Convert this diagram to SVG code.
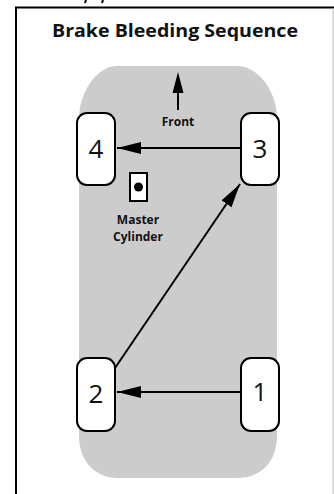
<svg xmlns="http://www.w3.org/2000/svg" width="334" height="494" viewBox="0 0 334 494">
<defs>
<style>
.wheel{fill:#ffffff;stroke:#000000;stroke-width:2}
.num{font-family:"Open Sans","Liberation Sans",sans-serif;font-size:26px;fill:#111;text-anchor:middle}
.lbl{font-family:"Open Sans","Liberation Sans",sans-serif;font-weight:bold;font-size:12px;fill:#111;text-anchor:middle}
.conn{stroke:#000;stroke-width:2;fill:none}
</style>
<marker id="ah" viewBox="0 0 24 12" refX="24" refY="6" markerWidth="24" markerHeight="12" markerUnits="userSpaceOnUse" orient="auto">
<path d="M0,0 L24,6 L0,12 Z" fill="#000"/>
</marker>
</defs>
<rect width="334" height="494" fill="#ffffff"/>
<g id="frame">
<path d="M16,494 V7.5 H334" stroke="#000" stroke-width="2" fill="none"/>
<line x1="333" y1="8" x2="333" y2="494" stroke="#bdbdbd" stroke-width="1"/>
<path d="M86,0 L85,3 M103,0 L102,3" stroke="#000" stroke-width="2"/>
</g>
<text id="title" x="175" y="37" font-family="'Open Sans','Liberation Sans',sans-serif" font-weight="bold" font-size="17.5" fill="#111" text-anchor="middle" textLength="246" lengthAdjust="spacingAndGlyphs">Brake Bleeding Sequence</text>
<g id="body">
<path d="M118,66 H236 C262,66 277,96 277,118 V436 C277,460 262,478 238,478 H118 C94,478 79,460 79,436 V118 C79,96 94,66 118,66 Z" fill="#cccccc"/>
</g>
<g id="front">
<line x1="178" y1="88" x2="178" y2="110" stroke="#000" stroke-width="2"/>
<path d="M178,72 L183.5,93 L172.5,93 Z" fill="#000"/>
<text class="lbl" x="178" y="126">Front</text>
</g>
<g id="master-cylinder">
<rect x="130" y="173" width="17" height="28" fill="#ffffff" stroke="#000" stroke-width="2"/>
<circle cx="138.5" cy="187" r="4.5" fill="#000"/>
<text class="lbl" x="138" y="224">Master</text>
<text class="lbl" x="138" y="241">Cylinder</text>
</g>
<g id="connectors">
<line class="conn" x1="241" y1="148" x2="117" y2="148" marker-end="url(#ah)"/>
<line class="conn" x1="115" y1="368" x2="240" y2="184" marker-end="url(#ah)"/>
<line class="conn" x1="241" y1="392" x2="117" y2="392" marker-end="url(#ah)"/>
</g>
<g id="wheel-4">
<rect class="wheel" x="77" y="113" width="38" height="72" rx="10"/>
<text class="num" x="96" y="158">4</text>
</g>
<g id="wheel-3">
<rect class="wheel" x="241" y="113" width="38" height="72" rx="10"/>
<text class="num" x="260" y="158">3</text>
</g>
<g id="wheel-2">
<rect class="wheel" x="77" y="358" width="38" height="73" rx="10"/>
<text class="num" x="96" y="403">2</text>
</g>
<g id="wheel-1">
<rect class="wheel" x="241" y="358" width="38" height="73" rx="10"/>
<text class="num" x="260" y="401">1</text>
</g>
</svg>
